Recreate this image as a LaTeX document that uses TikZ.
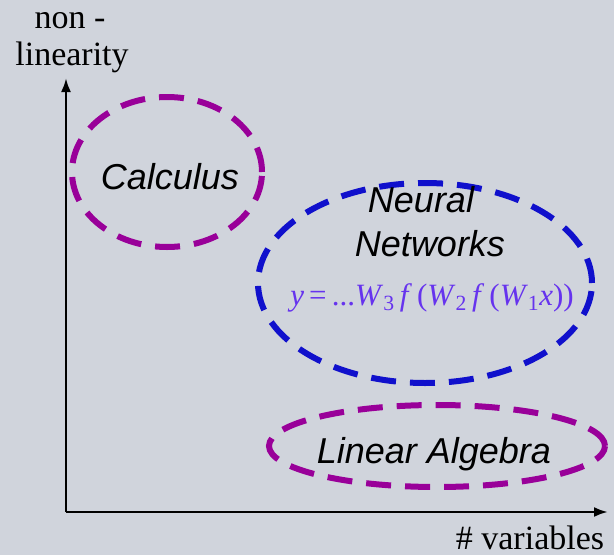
\documentclass[tikz,border=0pt]{standalone}
\usepackage{fontspec}
\setmainfont{Liberation Serif}
\newfontfamily\arial{Liberation Sans}
\usetikzlibrary{shapes.geometric,arrows.meta}
\definecolor{bg}{HTML}{D0D4DC}
\definecolor{purp}{HTML}{990099}
\definecolor{nblue}{HTML}{1010CC}
\definecolor{formula}{HTML}{6633EE}
\begin{document}
\begin{tikzpicture}[x=1pt,y=1pt,
  region/.style={ellipse,draw,line width=6pt,dash pattern=on 25pt off 14pt,inner sep=0pt},
  lbl/.style={font=\arial\itshape\fontsize{36}{40}\selectfont,anchor=base,inner sep=0pt},
  axlbl/.style={font=\fontsize{34}{38}\selectfont,anchor=base,inner sep=0pt},
  axis/.style={line width=2.5pt,-{Latex[length=14pt,width=10pt]}}]
\fill[bg] (0,0) rectangle (614,-555);
\useasboundingbox (0,0) rectangle (614,-555);
% axes
\coordinate (o) at (66,-512);
\coordinate (ytip) at (66,-78);
\coordinate (xtip) at (608,-512);
\draw[axis] (o) -- (ytip);
\draw[axis] (o) -- (xtip);
\node[axlbl] (non) at (70,-28) {non -};
\node[axlbl] (lin) at (72,-65) {linearity};
\node[axlbl] (var) at (530,-549) {\# variables};
% regions
\node[region,draw=purp,minimum width=190pt,minimum height=150pt] (calc) at (167,-172) {};
\node[region,draw=nblue,minimum width=334pt,minimum height=200pt] (nn) at (425,-283) {};
\node[region,draw=purp,minimum width=336pt,minimum height=82pt] (la) at (437,-446) {};
% labels
\node[lbl] (calct) at (170,-189) {Calculus};
\node[lbl] (nn1) at (421,-212) {Neural};
\node[lbl] (nn2) at (430,-256) {Networks};
\node[lbl] (lat) at (434,-463) {Linear Algebra};
\node[anchor=base,inner sep=0pt,text=formula,font=\fontsize{31}{34}\selectfont] (eq) at (432,-305)
  {\textit{y}\,=\,...\textit{W}\textsubscript{3}\,\textit{f}\,(\textit{W}\textsubscript{2}\,\textit{f}\,(\textit{W}\textsubscript{1}\textit{x}))};
\end{tikzpicture}
\end{document}
